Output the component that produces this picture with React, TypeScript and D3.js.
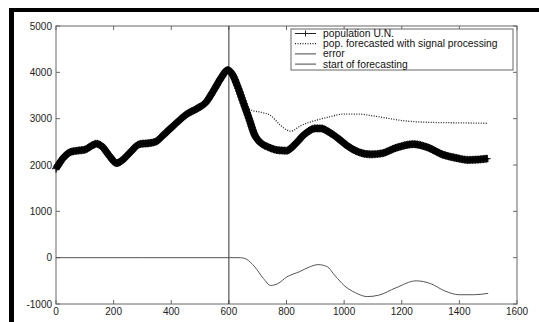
import { useEffect, useRef } from 'react';
import { select, scaleLinear, line, curveMonotoneX, range } from 'd3';

// population U.N.
const popYears = [0, 25, 50, 75, 100, 125, 140, 160, 185, 210, 235, 260, 290, 320, 345, 380, 415, 450, 490, 520, 550, 575, 595, 610, 630, 650, 670, 690, 710, 735, 770, 800, 830, 860, 900, 920, 950, 980, 1010, 1050, 1090, 1130, 1180, 1240, 1290, 1340, 1390, 1430, 1470, 1500];
const popValues = [1920, 2150, 2280, 2310, 2330, 2420, 2460, 2400, 2200, 2040, 2130, 2290, 2450, 2470, 2500, 2690, 2890, 3080, 3220, 3350, 3640, 3900, 4050, 3980, 3700, 3350, 3000, 2640, 2480, 2390, 2320, 2310, 2450, 2650, 2790, 2790, 2700, 2570, 2420, 2280, 2230, 2250, 2370, 2450, 2380, 2230, 2150, 2110, 2120, 2140];

// pop. forecasted with signal processing
const fcYears = [650, 680, 710, 745, 775, 800, 815, 850, 900, 950, 1000, 1050, 1100, 1150, 1200, 1300, 1400, 1500];
const fcValues = [3320, 3180, 3140, 3070, 2880, 2760, 2730, 2850, 2960, 3040, 3100, 3100, 3060, 3010, 2960, 2920, 2910, 2900];

// error
const errYears = [0, 300, 600, 640, 660, 690, 720, 745, 770, 800, 846, 880, 910, 940, 970, 1000, 1040, 1080, 1120, 1180, 1250, 1300, 1350, 1400, 1450, 1500];
const errValues = [0, 0, 0, 0, -30, -200, -450, -600, -560, -420, -300, -200, -150, -190, -400, -600, -760, -840, -810, -650, -500, -560, -720, -800, -800, -770];

const forecastStart = 600;
const xTicks = [0, 200, 400, 600, 800, 1000, 1200, 1400, 1600];
const yTicks = [-1000, 0, 1000, 2000, 3000, 4000, 5000];
const legendLabels = ['population U.N.', 'pop. forecasted with signal processing', 'error', 'start of forecasting'];

const W = 539;
const H = 322;
const margin = { left: 56, right: 22, top: 26, bottom: 18 };
const font = 'Liberation Sans, Arial, Helvetica, sans-serif';

export default function App() {
  const svgRef = useRef<SVGSVGElement>(null);

  useEffect(() => {
    if (!svgRef.current) return;
    const svg = select(svgRef.current);
    svg.selectAll('*').remove();

    const x = scaleLinear().domain([0, 1600]).range([margin.left, W - margin.right]);
    const y = scaleLinear().domain([-1000, 5000]).range([H - margin.bottom, margin.top]);
    const axisColor = '#666';

    svg.append('rect').attr('width', W).attr('height', H).attr('fill', 'white');

    // black frame (top + left)
    svg.append('rect').attr('x', 9).attr('y', 8).attr('width', W - 9).attr('height', 4).attr('fill', 'black');
    svg.append('rect').attr('x', 9).attr('y', 8).attr('width', 5).attr('height', H - 8).attr('fill', 'black');

    // axes box
    const [x0, x1] = x.range();
    const [y0, y1] = y.range();
    svg.append('rect')
      .attr('x', x0).attr('y', y1).attr('width', x1 - x0).attr('height', y0 - y1)
      .attr('fill', 'none').attr('stroke', axisColor).attr('stroke-width', 1);

    const tl = 4;
    xTicks.forEach((t) => {
      svg.append('line').attr('x1', x(t)).attr('x2', x(t)).attr('y1', y0).attr('y2', y0 - tl).attr('stroke', axisColor);
      svg.append('line').attr('x1', x(t)).attr('x2', x(t)).attr('y1', y1).attr('y2', y1 + tl).attr('stroke', axisColor);
      svg.append('text').attr('x', x(t)).attr('y', y0 + 11).attr('text-anchor', 'middle')
        .attr('font-family', font).attr('font-size', 10).attr('fill', '#222').text(String(t));
    });
    yTicks.forEach((t) => {
      svg.append('line').attr('x1', x0).attr('x2', x0 + tl).attr('y1', y(t)).attr('y2', y(t)).attr('stroke', axisColor);
      svg.append('line').attr('x1', x1).attr('x2', x1 - tl).attr('y1', y(t)).attr('y2', y(t)).attr('stroke', axisColor);
      svg.append('text').attr('x', x0 - 4).attr('y', y(t) + 3.5).attr('text-anchor', 'end')
        .attr('font-family', font).attr('font-size', 10).attr('fill', '#222').text(String(t));
    });

    const mk = (xs: number[], ys: number[]) => xs.map((v, i) => [v, ys[i]] as [number, number]);
    const path = line<[number, number]>().x((d) => x(d[0])).y((d) => y(d[1])).curve(curveMonotoneX);

    // start of forecasting
    svg.append('line').attr('x1', x(forecastStart)).attr('x2', x(forecastStart)).attr('y1', y0).attr('y2', y1)
      .attr('stroke', '#333').attr('stroke-width', 1);

    // error
    svg.append('path').attr('d', path(mk(errYears, errValues))).attr('fill', 'none')
      .attr('stroke', '#555').attr('stroke-width', 1);

    // forecast
    svg.append('path').attr('d', path(mk(fcYears, fcValues))).attr('fill', 'none')
      .attr('stroke', '#222').attr('stroke-width', 1.3).attr('stroke-dasharray', '1 1.5');

    // population: thick line of '+' markers
    const popPath = svg.append('path').attr('d', path(mk(popYears, popValues))).attr('fill', 'none')
      .attr('stroke', '#111').attr('stroke-width', 7).attr('stroke-linejoin', 'round');
    const node = popPath.node() as SVGPathElement;
    const len = node.getTotalLength();
    const marks = svg.append('g').attr('stroke', '#000').attr('stroke-width', 1);
    range(0, len, 1.6).forEach((l) => {
      const p = node.getPointAtLength(l);
      marks.append('path').attr('d', `M${p.x - 4},${p.y}h8M${p.x},${p.y - 4}v8`);
    });

    // legend
    const lx = 291, ly = 29, lw = 222, lh = 41;
    svg.append('rect').attr('x', lx).attr('y', ly).attr('width', lw).attr('height', lh)
      .attr('fill', 'white').attr('stroke', axisColor);
    legendLabels.forEach((lab, i) => {
      const cy = 33.5 + i * 10.2;
      const s = svg.append('line').attr('x1', 295).attr('x2', 316).attr('y1', cy).attr('y2', cy);
      if (i === 0) {
        s.attr('stroke', '#222').attr('stroke-width', 1);
        svg.append('line').attr('x1', 305.5).attr('x2', 305.5).attr('y1', cy - 3).attr('y2', cy + 3).attr('stroke', '#222');
      } else if (i === 1) {
        s.attr('stroke', '#222').attr('stroke-width', 1.2).attr('stroke-dasharray', '1 1.5');
      } else {
        s.attr('stroke', '#444').attr('stroke-width', 1);
      }
      svg.append('text').attr('x', 323).attr('y', cy + 3.5).attr('font-family', font).attr('font-size', 10.3)
        .attr('fill', '#111').text(lab);
    });
  }, []);

  return (
    <div style={{ position: 'fixed', left: 0, top: 0 }}>
      <svg ref={svgRef} width={W} height={H} style={{ display: 'block' }} />
    </div>
  );
}
